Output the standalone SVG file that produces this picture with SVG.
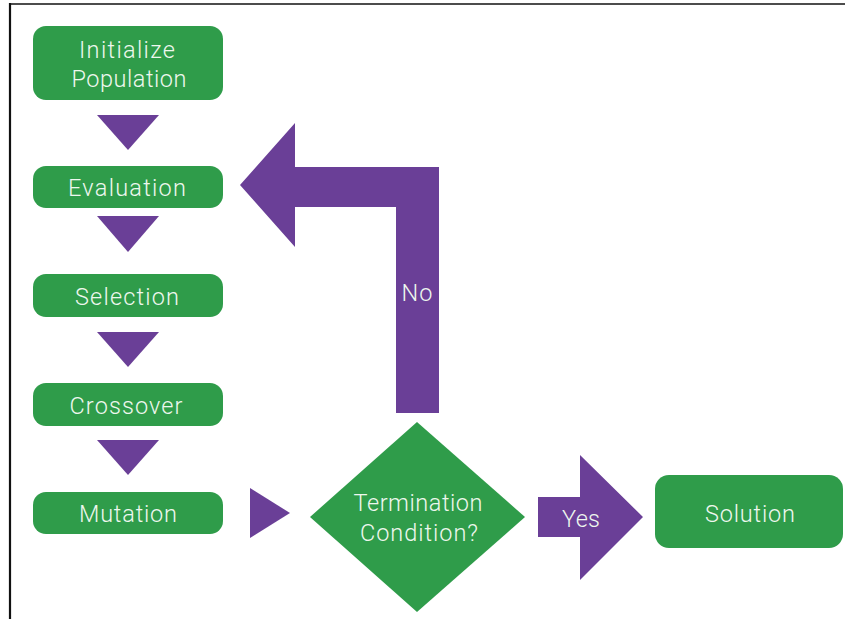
<svg xmlns="http://www.w3.org/2000/svg" width="845" height="619" viewBox="0 0 845 619">
<style>
.box{fill:#2f9c4a;}
.arr{fill:#6a3f97;}
.t{font-family:Roboto,"Liberation Sans",Arial,sans-serif;font-weight:300;font-size:23.5px;fill:#eef7ee;text-anchor:middle;}
</style>
<rect width="845" height="619" fill="#ffffff"/>
<line x1="9" y1="4" x2="845" y2="4" stroke="#111" stroke-width="1.6"/>
<line x1="10" y1="3" x2="10" y2="619" stroke="#111" stroke-width="2.2"/>
<g id="connectors">
<polygon class="arr" points="97,115 159,115 128,150"/>
<polygon class="arr" points="97,216 159,216 128,252"/>
<polygon class="arr" points="97,332 159,332 128,367"/>
<polygon class="arr" points="97,440 159,440 128,475"/>
<polygon class="arr" points="250,488 290,513 250,538"/>
<g id="no-arrow">
<polygon class="arr" points="240,185 295,123 295,167 439,167 439,413 396,413 396,207 295,207 295,247"/>
<text class="t" x="417" y="301" textLength="31" lengthAdjust="spacing">No</text>
</g>
<g id="yes-arrow">
<polygon class="arr" points="538,497 580,497 580,455 643,517 580,580 580,537 538,537"/>
<text class="t" x="581" y="527" textLength="38" lengthAdjust="spacing">Yes</text>
</g>
</g>
<g id="init">
<rect class="box" x="33" y="26" width="190" height="74" rx="13"/>
<text class="t" x="127" y="58" textLength="96" lengthAdjust="spacing">Initialize</text>
<text class="t" x="129" y="87" textLength="115" lengthAdjust="spacing">Population</text>
</g>
<g id="evaluation">
<rect class="box" x="33" y="166" width="190" height="42" rx="13"/>
<text class="t" x="127" y="196" textLength="118" lengthAdjust="spacing">Evaluation</text>
</g>
<g id="selection">
<rect class="box" x="33" y="274" width="190" height="43" rx="13"/>
<text class="t" x="127" y="305" textLength="104" lengthAdjust="spacing">Selection</text>
</g>
<g id="crossover">
<rect class="box" x="33" y="383" width="190" height="43" rx="13"/>
<text class="t" x="126" y="414" textLength="113" lengthAdjust="spacing">Crossover</text>
</g>
<g id="mutation">
<rect class="box" x="33" y="492" width="190" height="42" rx="13"/>
<text class="t" x="128" y="522" textLength="98" lengthAdjust="spacing">Mutation</text>
</g>
<g id="termination">
<polygon class="box" points="417,422 525,517 417,612 310,517"/>
<text class="t" x="418" y="511" textLength="129" lengthAdjust="spacing">Termination</text>
<text class="t" x="419" y="541" textLength="118" lengthAdjust="spacing">Condition?</text>
</g>
<g id="solution">
<rect class="box" x="655" y="475" width="188" height="73" rx="14"/>
<text class="t" x="750" y="522" textLength="90" lengthAdjust="spacing">Solution</text>
</g>
</svg>
